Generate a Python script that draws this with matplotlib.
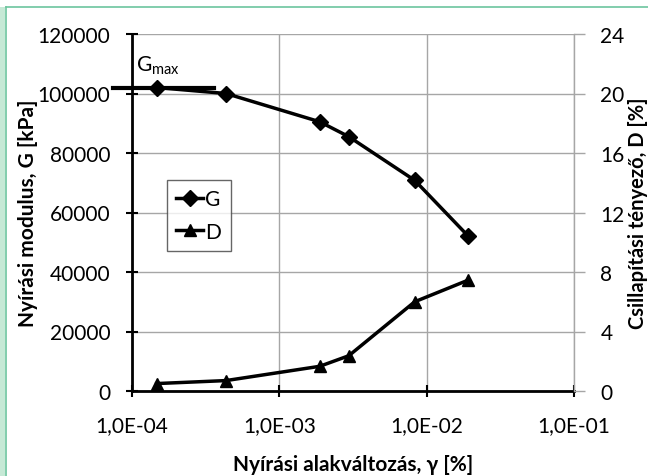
import matplotlib
matplotlib.use("Agg")
import matplotlib.pyplot as plt
from matplotlib.ticker import FixedLocator, FuncFormatter, NullLocator
from matplotlib.patches import Rectangle
from matplotlib.lines import Line2D

plt.rcParams['font.family'] = ['Lato', 'DejaVu Sans']

# Adatok (leolvasva az ábráról)
gamma = [1.47e-4, 4.34e-4, 1.88e-3, 2.96e-3, 8.3e-3, 1.92e-2]
G = [102000, 100000, 90500, 85500, 70800, 52000]
D = [0.5, 0.7, 1.66, 2.37, 6.0, 7.46]

gmax_x = [7.4e-5, 3.6e-4]
gmax = 102000

x_ticks = [1e-4, 1e-3, 1e-2, 1e-1]
g_ticks = [0, 20000, 40000, 60000, 80000, 100000, 120000]
d_ticks = [0, 4, 8, 12, 16, 20, 24]


def fmt_exp(v, pos):
    s = "%.1E" % v
    return s.replace(".", ",")


def main():
    fig = plt.figure(figsize=(6.48, 4.77), dpi=100)

    # zöld keret
    fig.patches.append(Rectangle((0, 0), 5 / 648, 469 / 477, transform=fig.transFigure,
                                 facecolor="#c6e9d6", edgecolor="none"))
    fig.add_artist(Line2D([5.5 / 648, 5.5 / 648], [0, 469 / 477], transform=fig.transFigure,
                          color="#6cc59e", lw=1.2))
    fig.add_artist(Line2D([5.5 / 648, 1], [469 / 477, 469 / 477], transform=fig.transFigure,
                          color="#6cc59e", lw=1.2))

    ax = fig.add_axes([132 / 648, 85 / 477, 442 / 648, 357 / 477])
    ax.set_xscale("log")
    ax.set_xlim(1e-4, 1e-1)
    ax.set_ylim(0, 120000)

    ax.xaxis.set_major_locator(FixedLocator(x_ticks))
    ax.xaxis.set_minor_locator(NullLocator())
    ax.xaxis.set_major_formatter(FuncFormatter(fmt_exp))
    ax.yaxis.set_major_locator(FixedLocator(g_ticks))

    ax.grid(True, color="#a6a6a6", lw=1)
    ax.set_axisbelow(True)

    for s in ["top", "right"]:
        ax.spines[s].set_visible(False)
    ax.spines["left"].set_linewidth(2)
    ax.spines["bottom"].set_linewidth(2)

    ax.tick_params(axis="both", labelsize=15, color="black", width=1.5, length=9,
                   direction="inout")
    ax.tick_params(axis="y", pad=11)
    ax.tick_params(axis="x", pad=13)

    ax.plot(gamma, G, color="black", lw=2.5, marker="D", ms=8, label="G", zorder=4)
    ax.plot(gmax_x, [gmax, gmax], color="black", lw=3, clip_on=False, zorder=4)
    ax.text(1.06e-4, 109600, r"G$_{\mathregular{max}}$", fontsize=15, ha="left", va="center")

    ax2 = ax.twinx()
    ax2.set_ylim(0, 24)
    ax2.yaxis.set_major_locator(FixedLocator(d_ticks))
    for s in ["top", "left", "bottom"]:
        ax2.spines[s].set_visible(False)
    ax2.spines["right"].set_color("#a6a6a6")
    ax2.spines["right"].set_linewidth(1)
    ax2.tick_params(axis="y", labelsize=15, color="#a6a6a6", width=1, length=8,
                    direction="out", pad=11)
    ax2.plot(gamma, D, color="black", lw=2.5, marker="^", ms=9, label="D", zorder=4)

    h1, l1 = ax.get_legend_handles_labels()
    h2, l2 = ax2.get_legend_handles_labels()
    leg = ax2.legend(h1 + h2, l1 + l2, loc="upper left", bbox_to_anchor=(0.079, 0.592),
                     fontsize=15, frameon=True, fancybox=False, handlelength=1.3,
                     handletextpad=0.1, borderpad=0.45, labelspacing=0.6,
                     borderaxespad=0)
    leg.get_frame().set_edgecolor("#404040")
    leg.get_frame().set_linewidth(1)

    ax.set_ylabel("Nyírási modulus, G [kPa]", fontsize=15, fontweight="bold")
    ax.yaxis.set_label_coords(-0.213, 0.5)
    ax2.set_ylabel("Csillapítási tényező, D [%]", fontsize=14.5, fontweight="bold")
    ax2.yaxis.set_label_coords(1.122, 0.5)
    ax.set_xlabel("Nyírási alakváltozás, γ [%]", fontsize=15, fontweight="bold")
    ax.xaxis.set_label_coords(0.5, -0.176)

    fig.savefig("out.png", dpi=100)


if __name__ == "__main__":
    main()
